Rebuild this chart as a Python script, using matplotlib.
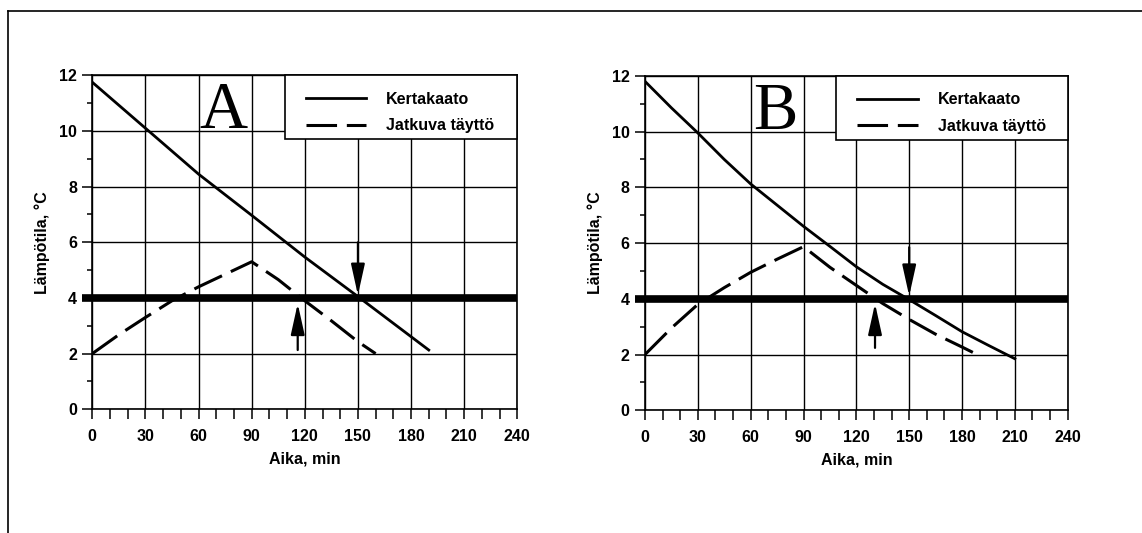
import matplotlib
matplotlib.use("Agg")
import matplotlib.pyplot as plt
from matplotlib.ticker import MultipleLocator
from matplotlib.lines import Line2D
from matplotlib.patches import Rectangle

# ---------------- data ----------------
time_a_batch = [0, 30, 60, 90, 120, 150, 190]
temp_a_batch = [11.75, 10.1, 8.45, 6.97, 5.47, 4.05, 2.13]
time_a_cont = [0, 15, 30, 45, 60, 75, 90, 105, 120, 135, 150, 160]
temp_a_cont = [2.0, 2.68, 3.3, 3.9, 4.4, 4.85, 5.3, 4.66, 3.9, 3.18, 2.43, 2.0]

time_b_batch = [0, 15, 30, 45, 60, 75, 90, 105, 120, 135, 150, 165, 180, 195, 210]
temp_b_batch = [11.8, 10.85, 9.95, 9.0, 8.12, 7.36, 6.6, 5.88, 5.15, 4.52, 3.97, 3.4, 2.82, 2.33, 1.85]
time_b_cont = [0, 15, 30, 45, 60, 75, 90, 105, 120, 135, 150, 165, 180, 187]
temp_b_cont = [2.0, 2.95, 3.8, 4.4, 4.95, 5.42, 5.87, 5.13, 4.48, 3.83, 3.26, 2.73, 2.27, 2.05]

limit_temp = 4.0
# arrows: (time, start temp, end temp)
arrows_a = [(150, 6.0, 4.1), (116, 2.13, 3.8)]
arrows_b = [(150, 5.85, 4.1), (130.6, 2.24, 3.83)]

panel_letters = ["A", "B"]
series_labels = ["Kertakaato", "Jatkuva täyttö"]
x_label = "Aika, min"
y_label = "Lämpötila, °C"

plt.rcParams['font.family'] = ['Liberation Sans', 'DejaVu Sans']
plt.rcParams['font.weight'] = 'bold'

fig = plt.figure(figsize=(11.42, 5.33), dpi=100)
fig.patch.set_facecolor('white')

axes_rects = [
    [92.3 / 1142, 123.7 / 533, 425.0 / 1142, 334.0 / 533],
    [645.0 / 1142, 122.7 / 533, 422.7 / 1142, 334.5 / 533],
]

panels = [
    (time_a_batch, temp_a_batch, time_a_cont, temp_a_cont, arrows_a),
    (time_b_batch, temp_b_batch, time_b_cont, temp_b_cont, arrows_b),
]

for rect, letter, (tb, yb, tc, yc, arrs) in zip(axes_rects, panel_letters, panels):
    ax = fig.add_axes(rect)
    ax.set_xlim(0, 240)
    ax.set_ylim(0, 12)
    ax.xaxis.set_major_locator(MultipleLocator(30))
    ax.xaxis.set_minor_locator(MultipleLocator(10))
    ax.yaxis.set_major_locator(MultipleLocator(2))
    ax.yaxis.set_minor_locator(MultipleLocator(1))
    ax.grid(True, which='major', color='black', lw=1.0)
    ax.set_axisbelow(True)
    for sp in ax.spines.values():
        sp.set_linewidth(1.2)
        sp.set_color('black')
    ax.tick_params(axis='x', which='both', direction='out', length=7.5, width=1.1,
                   pad=7, labelsize=11.5)
    ax.tick_params(axis='y', which='major', direction='out', length=7, width=1.1,
                   pad=4, labelsize=11.5)
    ax.tick_params(axis='y', which='minor', direction='out', length=3.5, width=1.1)
    for lab in ax.get_xticklabels() + ax.get_yticklabels():
        lab.set_fontweight('bold')

    ax.axhline(limit_temp, xmin=-0.024, xmax=1, color='black', lw=5.5,
               clip_on=False, zorder=3, solid_capstyle='butt')
    l1, = ax.plot(tb, yb, color='black', lw=2.0, zorder=4,
                  solid_joinstyle='round', label=series_labels[0])
    l2, = ax.plot(tc, yc, color='black', lw=2.2, zorder=4, dashes=(10, 3.2),
                  label=series_labels[1])

    for (xa, y0, y1) in arrs:
        ax.annotate('', xy=(xa, y1), xytext=(xa, y0),
                    arrowprops=dict(arrowstyle='-|>,head_length=1.9,head_width=0.42',
                                    mutation_scale=10, color='black', lw=1.6,
                                    shrinkA=0, shrinkB=0),
                    zorder=5)

    ax.text(74, 10.09, letter, family='Liberation Serif', fontweight='normal',
            fontsize=48, ha='center', va='baseline', zorder=5)

    # legend box (upper right corner of the axes)
    box = Rectangle((0.453, 0.808), 0.547, 0.192, transform=ax.transAxes,
                    facecolor='white', edgecolor='black', lw=1.2, zorder=5,
                    clip_on=False)
    ax.add_patch(box)
    leg = ax.legend(handles=[l1, l2], loc='center left',
                    bbox_to_anchor=(0.453, 0.8886),
                    borderaxespad=0, frameon=False,
                    prop={'weight': 'bold', 'size': 11.5}, handlelength=3.8,
                    handletextpad=1.25, borderpad=1.3, labelspacing=0.7)
    leg.set_zorder(6)

    ax.set_xlabel(x_label, fontsize=11.5, fontweight='bold')
    ax.set_ylabel(y_label, fontsize=11.5, fontweight='bold')
    ax.xaxis.set_label_coords(0.5, -0.125)
    ax.yaxis.set_label_coords(-0.10, 0.5)

# outer frame lines
fig.add_artist(Line2D([8 / 1142, 8 / 1142], [0, 1 - 11 / 533], color='black', lw=1.2))
fig.add_artist(Line2D([8 / 1142, 1], [1 - 11 / 533, 1 - 11 / 533], color='black', lw=1.2))

fig.savefig('out.png', dpi=100, facecolor='white')
